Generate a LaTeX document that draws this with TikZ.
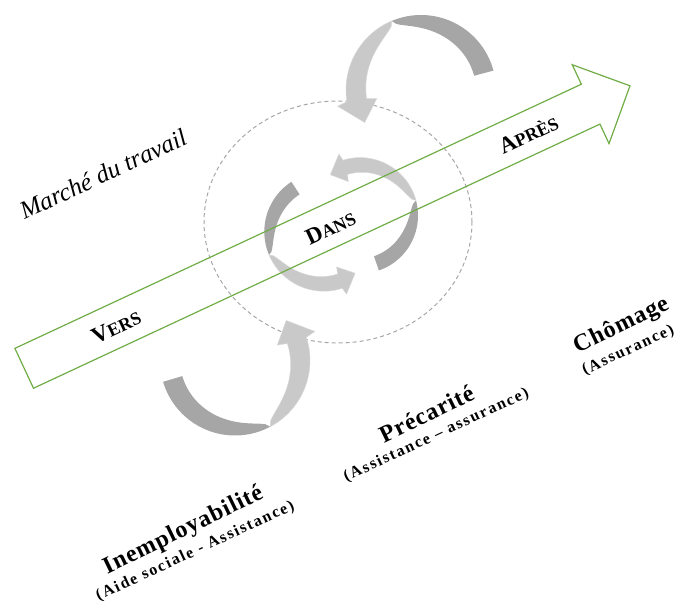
\documentclass[tikz,border=0pt]{standalone}
\usepackage{fontspec}
\setmainfont{Liberation Serif}
\usepackage{tikz}
\usepackage{xcolor}
\definecolor{armgreen}{HTML}{70AD47}

\begin{document}
\begin{tikzpicture}[x=1pt,y=1pt,
    lab/.style={font=\bfseries\fontsize{24}{24}\selectfont\addfontfeature{LetterSpace=4},rotate=26,anchor=base},
    sublab/.style={font=\bfseries\fontsize{16}{16}\selectfont\addfontfeature{LetterSpace=11},rotate=25,anchor=base}]
      \useasboundingbox (0,0) rectangle (680,605);
      \draw[gray!70,dash pattern=on 4pt off 3pt,line width=1pt] (338,383) ellipse (134 and 121);
      % ribbons: centre / radius / width / tail / twist / end / head / tip
      \foreach \cx/\cy/\rad/\w/\ta/\tb/\tc/\hw/\tp in {421/515/65/20/15/113/189/20/210, 235/244.5/65/20/196.5/298/378/20/398, 360/389.4/50.5/15/-71/15/107/14.5/126, 323.8/373.3/52/15/123/203/288/14.5/307}{
        \begin{scope}[shift={(\cx,\cy)}]
          \fill[gray!70] plot[domain=\ta:\tb,samples=40] ({(\rad+\w/2)*cos(\x)},{(\rad+\w/2)*sin(\x)})
            -- plot[domain=\tb:\ta,samples=40] ({(\rad+\w/2-\w*sqrt(max(0,1-((\x-(\ta))/(\tb-(\ta)))^2)))*cos(\x)},{(\rad+\w/2-\w*sqrt(max(0,1-((\x-(\ta))/(\tb-(\ta)))^2)))*sin(\x)}) -- cycle;
          \draw[gray!30,fill=gray!42] plot[domain=\tb:\tc,samples=40] ({(\rad+\w/2)*cos(\x)},{(\rad+\w/2)*sin(\x)})
            -- ({\tc+2}:{\rad+\hw}) -- (\tp:\rad) -- ({\tc+2}:{\rad-\hw})
            -- plot[domain=\tc:\tb,samples=40] ({(\rad+\w/2-\w*sqrt(max(0,1-(1-(\x-(\tb))/(\tc-(\tb)))^2)))*cos(\x)},{(\rad+\w/2-\w*sqrt(max(0,1-(1-(\x-(\tb))/(\tc-(\tb)))^2)))*sin(\x)}) -- cycle;
        \end{scope}
      }
      % big arrow
      \begin{scope}[shift={(24.2,236.7)},rotate=25]
        \draw[armgreen,line width=1.2pt] (0,22) -- (625,22) -- (625,43.5) -- (668.4,0) -- (625,-43.5) -- (625,-22) -- (0,-22) -- cycle;
        \node[rotate=25,font=\bfseries] (vers) at (101,-1) {\fontsize{23}{23}\selectfont V\fontsize{18}{18}\selectfont ERS};
        \node[rotate=25,font=\bfseries] (dans) at (337,-2) {\fontsize{23}{23}\selectfont D\fontsize{18}{18}\selectfont ANS};
        \node[rotate=25,font=\bfseries] (apres) at (556,-1) {\fontsize{23}{23}\selectfont A\fontsize{18}{18}\selectfont PRÈS};
      \end{scope}
      \node[rotate=25,font=\itshape\fontsize{25}{25}\selectfont] (marche) at (103,431) {Marché du travail};
      \node[lab] (chomage) at (624,274) {Chômage};
      \node[sublab] (assur) at (630,251) {(Assurance)};
      \node[lab] (precar) at (430,184) {Précarité};
      \node[sublab] (assist) at (438,166) {(Assistance – assurance)};
      \node[lab] (inemp) at (186,69) {Inemployabilité};
      \node[sublab] (aide) at (197,50) {(Aide sociale - Assistance)};
\end{tikzpicture}
\end{document}
